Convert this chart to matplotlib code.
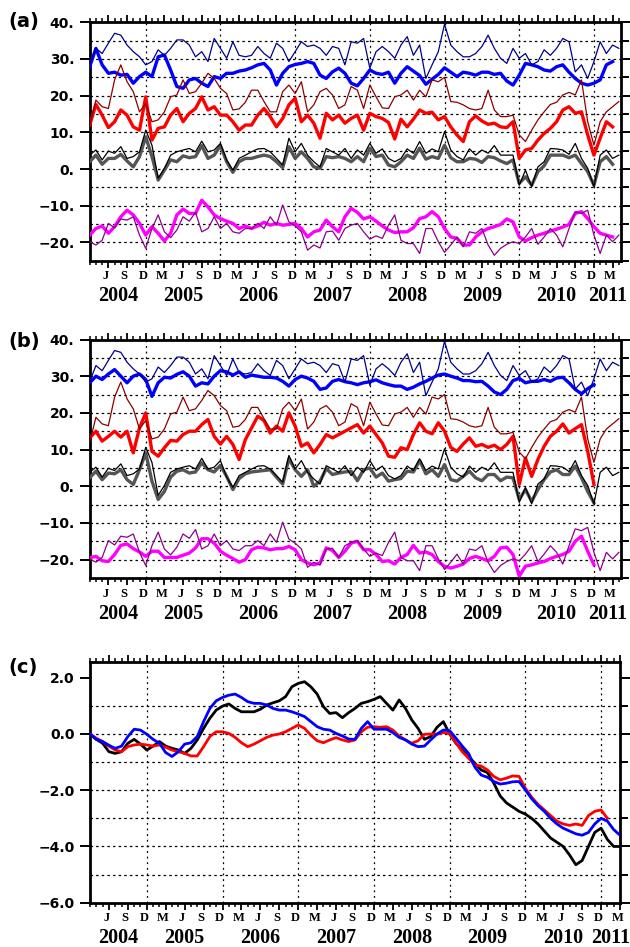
import numpy as np
import matplotlib.pyplot as plt
from matplotlib.transforms import blended_transform_factory

# all series are monthly values, the first one is March 2004
start = 2004 + 2 / 12

# ---- observed (thin) series, same in panels (a) and (b)
obs_blue = [28.5, 32.9, 31.5, 34.3, 37.0, 36.5, 33.8, 32.0, 30.6, 28.4, 29.3, 32.5, 31.0, 32.9, 35.2, 35.2,
            33.8, 30.6, 32.0, 29.3, 35.6, 32.9, 30.2, 34.7, 31.0, 30.6, 31.0, 33.4, 31.5, 30.2, 34.3, 32.9,
            29.3, 32.0, 34.7, 33.4, 33.8, 32.9, 31.0, 33.4, 32.9, 28.4, 34.7,
            34.3, 35.6, 27.5, 32.0, 33.4, 32.0, 30.2, 33.8, 36.1, 31.0, 33.8, 24.7, 28.4, 32.0, 39.5, 33.8,
            32.0, 30.6, 30.6, 31.5, 33.4, 36.5, 32.9, 30.2, 28.8, 32.9, 30.2, 31.5, 28.4, 29.3, 32.5, 31.0,
            32.9, 35.6, 34.7, 26.5, 28.4, 24.7, 29.3, 34.7, 31.5, 33.8, 32.9]
obs_red = [12.0, 18.8, 17.0, 16.5, 24.3, 28.4, 23.8, 21.1, 15.6, 17.9, 12.9, 13.4, 15.6, 19.7, 20.2, 24.3,
           20.6, 21.1, 23.4, 26.1, 24.7, 22.0, 20.6, 16.1, 16.4, 18.2, 21.5, 21.5, 18.4, 15.6, 15.6, 21.1,
           22.9, 20.6, 23.8, 15.6, 17.5, 21.1, 22.0, 20.2, 16.5, 17.5, 22.5,
           21.5, 16.5, 22.9, 19.7, 16.7, 16.5, 19.7, 20.2, 21.5, 18.8, 21.5, 19.7, 24.3, 23.8, 25.0, 18.4,
           18.2, 17.5, 16.5, 16.1, 16.5, 21.5, 16.1, 14.3, 14.3, 14.7, 9.3, 7.5, 10.6, 13.4, 15.6, 17.6,
           18.2, 20.2, 20.9, 20.2, 24.3, 12.9, 6.5, 12.9, 15.6, 17.0, 18.4]
obs_black = [3.8, 5.2, 2.5, 4.9, 4.3, 6.1, 2.9, 3.4, 4.7, 10.6, 6.5, -2.5, 0.2, 3.8, 4.7, 5.2,
             5.6, 4.7, 7.6, 4.7, 5.2, 7.0, 2.5, -0.3, 2.9, 3.8, 4.7, 5.5, 5.6, 4.7, 2.9, 1.1,
             8.4, 4.7, 7.0, 3.8, 2.0, 0.6, 5.6, 4.7, 3.8, 5.6, 2.9,
             5.2, 3.8, 7.0, 4.3, 5.5, 2.9, 2.0, 2.9, 5.5, 4.3, 7.5, 4.3, 5.5, 4.7, 10.2, 5.2,
             3.4, 2.5, 5.5, 3.8, 5.2, 4.3, 6.4, 3.8, 3.8, 3.8, -4.4, -0.3, -4.8, 0.6, 2.0, 5.6,
             5.5, 5.2, 4.0, 7.0, 2.9, 0.2, -4.8, 3.8, 5.2, 2.9, 3.8]
obs_purple = [-19.8, -20.7, -19.4, -14.8, -16.0, -13.6, -13.9, -13.0, -18.0, -21.6, -16.2, -12.5, -17.1, -18.7,
              -16.6, -13.0, -14.2, -11.8, -17.1, -16.2, -13.0, -16.2, -14.8, -17.1, -17.5, -16.2, -16.2, -14.8,
              -16.2, -13.0, -15.3, -9.8, -14.4, -15.5, -17.1, -22.1, -20.7, -21.5, -17.1, -16.9, -19.4, -16.2, -15.3,
              -14.8, -17.1, -19.1, -18.2, -18.9, -15.3, -12.5, -19.4, -20.3, -20.3, -23.0, -16.2, -16.2, -19.8,
              -22.7, -20.7, -18.5, -21.2, -17.1, -17.5, -16.2, -20.7, -23.5, -21.6, -20.5, -19.8, -20.3, -18.5,
              -16.2, -20.5, -18.5, -16.2, -18.0, -21.2, -16.2, -11.6, -12.1, -11.2, -18.0, -23.0, -18.0, -19.8, -18.0]

# ---- model (thick) series, panel (a)
a_blue = [27.9, 32.9, 28.4, 26.1, 26.4, 25.6, 25.8, 23.4, 25.2, 26.4, 25.2, 30.6, 31.1, 27.0, 22.5, 22.0,
          24.3, 24.7, 23.4, 22.5, 25.2, 24.7, 26.1, 26.1, 26.7, 27.0, 27.6, 28.4, 28.8, 27.0, 22.9, 26.1,
          27.9, 28.5, 28.8, 29.3, 28.8, 25.6, 24.7, 26.5, 27.5, 26.1, 23.4,
          22.7, 24.7, 27.0, 26.1, 25.8, 26.4, 23.4, 26.1, 27.9, 26.7, 25.5, 23.1, 24.5, 25.8, 27.6, 26.4,
          25.2, 26.4, 26.1, 25.6, 26.4, 26.4, 25.8, 26.1, 24.0, 22.9, 25.6, 28.8, 28.4, 27.9, 27.0, 26.7,
          27.9, 28.4, 26.4, 24.7, 23.4, 22.9, 23.4, 24.3, 28.4, 29.3]
a_red = [12.0, 17.6, 14.7, 11.3, 12.9, 16.1, 14.7, 11.5, 10.6, 19.7, 7.9, 11.1, 11.5, 14.7, 16.5, 12.9,
         15.2, 16.5, 19.7, 16.1, 17.0, 14.7, 14.7, 12.9, 10.6, 12.0, 12.0, 14.7, 16.5, 14.3, 11.5, 13.8,
         17.5, 19.3, 12.9, 14.7, 12.5, 8.4, 15.2, 13.4, 14.7, 12.5, 13.8,
         14.7, 10.6, 15.2, 14.3, 13.8, 12.7, 8.2, 13.6, 11.5, 13.6, 16.1, 15.2, 15.5, 13.4, 14.3, 11.5,
         9.3, 7.5, 12.9, 14.5, 13.1, 12.2, 12.5, 11.5, 11.3, 12.9, 2.9, 5.2, 5.6, 7.9, 9.7, 11.1,
         12.9, 16.1, 17.0, 15.2, 15.6, 9.3, 3.8, 8.4, 12.9, 11.5]
a_gray = [2.0, 3.8, 1.3, 2.9, 2.9, 4.0, 2.2, 0.6, 3.4, 8.8, 3.4, -3.0, -0.3, 2.5, 2.0, 3.6,
          3.1, 3.4, 6.4, 2.9, 3.8, 6.4, 2.0, -0.9, 2.0, 2.9, 2.9, 3.4, 3.8, 3.4, 2.0, 0.4,
          6.1, 2.9, 4.7, 2.9, 0.6, 0.2, 3.4, 3.1, 3.4, 2.9, 2.0,
          3.4, 2.0, 5.7, 3.4, 3.8, 1.1, 0.6, 2.0, 3.8, 2.9, 5.7, 2.7, 3.4, 2.9, 6.5, 3.1,
          2.0, 2.0, 2.9, 2.7, 1.8, 3.4, 3.1, 2.2, 1.5, 2.5, -3.9, -2.1, -4.4, -0.7, 0.9, 3.8,
          3.8, 3.8, 3.1, 3.8, 1.5, -0.7, -4.4, 2.0, 3.4, 1.3]
a_magenta = [-18.0, -16.2, -15.5, -17.5, -15.7, -13.0, -11.2, -12.5, -14.8, -18.0, -15.7, -17.5, -19.6, -17.5,
             -12.5, -10.9, -12.1, -12.1, -8.5, -10.3, -12.5, -13.5, -14.2, -14.8, -16.2, -15.5, -16.2, -15.5,
             -14.5, -15.3, -14.8, -15.3, -15.1, -14.8, -16.2, -18.5, -17.1, -16.6, -13.9, -15.7, -17.1, -13.0, -10.7,
             -11.8, -13.6, -13.0, -14.2, -15.5, -16.6, -17.3, -17.1, -17.1, -16.0, -13.5, -13.0, -11.6, -13.0,
             -16.2, -18.5, -18.9, -20.7, -20.7, -18.5, -17.1, -16.2, -15.7, -15.1, -13.6, -14.4, -18.5, -19.6,
             -18.7, -18.0, -17.5, -16.9, -16.4, -15.8, -15.1, -12.1, -11.6, -13.5, -15.7, -17.5, -18.0, -18.5]

# ---- model (thick) series, panel (b)
b_blue = [28.2, 30.0, 29.1, 30.6, 31.8, 30.0, 28.2, 30.0, 30.6, 29.1, 24.5, 28.2, 29.7, 29.5, 30.5, 31.2,
          30.0, 27.3, 28.2, 27.9, 30.0, 31.5, 31.2, 30.3, 31.2, 29.7, 30.3, 30.0, 29.7, 29.7, 29.5, 28.6,
          27.3, 29.1, 30.0, 29.5, 28.6, 26.4, 26.8, 28.6, 29.1, 28.5, 28.2,
          27.7, 28.2, 28.5, 29.0, 28.2, 27.7, 27.3, 27.3, 26.4, 27.0, 27.9, 28.6, 29.5, 30.3, 30.6, 30.0,
          29.5, 28.8, 28.8, 28.5, 28.6, 27.3, 25.7, 25.0, 26.4, 28.8, 29.4, 28.2, 28.6, 28.6, 29.1, 28.6,
          29.5, 29.7, 28.2, 26.4, 25.2, 26.6, 27.7]
b_red = [13.2, 15.0, 12.3, 13.6, 15.0, 13.4, 15.0, 9.1, 15.9, 20.0, 9.5, 8.2, 10.5, 12.5, 12.3, 14.1,
         15.0, 15.0, 16.8, 18.2, 13.6, 11.5, 13.6, 11.4, 7.3, 12.7, 15.9, 19.1, 17.9, 14.5, 16.4, 15.0,
         20.0, 16.4, 10.9, 11.8, 9.1, 11.4, 14.1, 13.2, 14.1, 15.0, 15.9,
         16.8, 14.5, 16.4, 14.1, 11.8, 8.2, 7.9, 10.5, 10.0, 14.1, 17.3, 15.0, 14.3, 17.3, 15.0, 10.6,
         9.5, 11.5, 13.2, 10.9, 11.4, 10.6, 11.2, 10.0, 11.4, 13.6, 0.5, 7.7, 2.7, 7.3, 10.9, 13.6,
         15.0, 17.0, 14.5, 15.7, 16.8, 9.5, 0.5]
b_gray = [2.3, 4.1, 1.8, 3.6, 3.4, 4.5, 1.8, 0.5, 4.5, 9.1, 1.4, -3.6, -1.4, 2.5, 4.1, 4.5,
          3.6, 3.9, 6.4, 4.5, 3.9, 5.7, 2.7, -0.9, 2.1, 3.4, 3.9, 4.1, 4.3, 4.5, 2.5, 0.6,
          7.5, 4.5, 2.7, 4.5, 0.0, 1.4, 4.8, 3.2, 3.6, 3.9, 4.1,
          1.5, 4.5, 5.0, 2.5, 3.6, 1.4, 1.8, 2.1, 4.1, 3.9, 7.0, 3.4, 4.5, 2.7, 5.9, 1.8,
          1.4, 2.7, 4.1, 2.3, 1.5, 3.2, 3.2, 1.5, 2.5, 2.3, -3.6, -0.9, -4.1, -0.9, 1.8, 3.9,
          4.5, 3.2, 3.2, 5.5, 2.3, -1.4, -4.5]
b_magenta = [-19.5, -19.1, -20.3, -20.5, -18.6, -16.1, -15.7, -17.0, -17.9, -19.1, -17.7, -17.7, -19.4, -19.4,
             -19.4, -18.8, -18.2, -16.8, -14.3, -14.3, -15.5, -17.7, -18.8, -19.7, -20.7, -20.0, -17.3, -16.6,
             -16.8, -17.3, -17.0, -17.0, -16.4, -17.3, -20.0, -20.9, -21.4, -20.9, -16.8, -17.5, -19.4, -17.7, -15.5,
             -15.0, -17.3, -17.3, -18.6, -20.5, -20.3, -21.2, -19.4, -18.6, -16.1, -18.2, -17.9, -18.6, -20.5,
             -21.8, -22.3, -21.8, -21.2, -19.7, -19.1, -19.7, -20.3, -19.1, -16.8, -16.6, -18.6, -24.5, -21.8,
             -21.4, -20.9, -20.5, -19.7, -19.1, -18.6, -17.7, -15.0, -13.6, -17.7, -21.4]

# ---- panel (c)
c_black = [0.0, -0.19, -0.33, -0.63, -0.69, -0.63, -0.33, -0.19, -0.36, -0.57, -0.43, -0.27, -0.43, -0.51,
           -0.57, -0.69, -0.51, -0.21, 0.20, 0.56, 0.85, 0.99, 1.07, 0.91, 0.79, 0.79, 0.79, 0.88, 1.03,
           1.11, 1.18, 1.33, 1.68, 1.80, 1.86, 1.68, 1.42,
           0.97, 0.73, 0.76, 0.58, 0.76, 0.91, 1.09, 1.15, 1.23, 1.33, 1.09, 0.85, 1.21, 0.91, 0.50, 0.20,
           -0.19, -0.09, 0.24, 0.44, 0.00, -0.33, -0.57, -0.80, -1.04, -1.28, -1.37, -1.75,
           -2.2, -2.45, -2.6, -2.75, -2.85, -3.0, -3.2, -3.45, -3.7, -3.85, -4.0, -4.3, -4.65, -4.5, -4.0,
           -3.5, -3.35, -3.75, -4.0, -4.0]
c_blue = [0.0, -0.19, -0.27, -0.40, -0.51, -0.43, -0.09, 0.17, 0.14, -0.01, -0.19, -0.33, -0.66, -0.80,
          -0.63, -0.36, -0.31, -0.09, 0.44, 0.91, 1.18, 1.30, 1.38, 1.42, 1.30, 1.15, 1.09, 1.09, 1.03,
          0.91, 0.85, 0.85, 0.79, 0.71, 0.62, 0.44, 0.26,
          0.17, 0.14, 0.02, -0.07, -0.18, -0.19, 0.20, 0.44, 0.17, 0.17, 0.17, 0.05, -0.12, -0.21, -0.36,
          -0.45, -0.43, -0.21, 0.00, 0.14, 0.12, -0.15, -0.43, -0.69, -1.18, -1.46, -1.54, -1.69, -1.78,
          -1.75, -1.70, -1.69, -1.99,
          -2.3, -2.55, -2.75, -3.0, -3.2, -3.35, -3.45, -3.55, -3.6, -3.5, -3.2, -3.0, -3.1, -3.4, -3.6]
c_red = [0.0, -0.15, -0.27, -0.43, -0.57, -0.63, -0.45, -0.39, -0.36, -0.39, -0.43, -0.39, -0.47, -0.57,
         -0.63, -0.69, -0.78, -0.78, -0.45, -0.09, 0.08, 0.08, 0.02, -0.12, -0.31, -0.45, -0.36, -0.24,
         -0.12, -0.04, 0.00, 0.08, 0.20, 0.32, 0.20, -0.04, -0.24,
         -0.31, -0.21, -0.13, -0.21, -0.27, -0.21, 0.08, 0.24, 0.26, 0.24, 0.26, 0.14, -0.07, -0.21, -0.33,
         -0.24, -0.01, 0.00, -0.01, 0.05, 0.02, -0.31, -0.63, -0.86, -1.10, -1.14, -1.28, -1.51, -1.63,
         -1.57, -1.49, -1.51, -1.93,
         -2.25, -2.5, -2.7, -2.9, -3.1, -3.2, -3.25, -3.2, -3.25, -2.9, -2.75, -2.7, -3.0]

years = [2004, 2005, 2006, 2007, 2008, 2009, 2010, 2011]
quarter_letters = {3: 'M', 6: 'J', 9: 'S', 12: 'D'}

SERIF = 'Liberation Serif'


def tt(values):
    return start + np.arange(len(values)) / 12


def minus(s):
    return s.replace('-', '\u2212')


def style(ax, xend, ylim, ystep, ylab_step, fmt):
    ax.set_xlim(start, xend)
    ax.set_ylim(*ylim)
    for s in ax.spines.values():
        s.set_linewidth(2.0)

    # x ticks: quarterly major, monthly minor
    months = np.arange(start, xend + 1e-6, 1 / 12)
    quarters = [start + k / 12 for k in range(3, 86, 3) if start + k / 12 <= xend + 1e-6]
    ax.set_xticks(quarters)
    ax.set_xticks(months, minor=True)
    ax.tick_params(axis='x', which='major', direction='out', length=5, width=1.3,
                   top=True, bottom=True, labelbottom=False)
    ax.tick_params(axis='x', which='minor', direction='out', length=3.2, width=1.1,
                   top=True, bottom=True)

    # y ticks: labelled ones on the left, every grid level on the right
    levels = np.arange(ylim[0], ylim[1] + 1e-6, ystep)
    major = [v for v in levels if abs(v / ylab_step - round(v / ylab_step)) < 1e-6]
    minor = [v for v in levels if v not in major]
    ax.set_yticks(major)
    ax.set_yticks(minor, minor=True)
    ax.set_yticklabels([minus(fmt(v)) for v in major])
    ax.tick_params(axis='y', which='major', direction='out', length=7, width=1.4,
                   left=True, right=True, pad=4)
    ax.tick_params(axis='y', which='minor', direction='out', length=6, width=1.4,
                   left=False, right=True)
    for lab in ax.get_yticklabels():
        lab.set_fontweight('bold')
        lab.set_fontsize(10)

    # grid
    for v in levels[1:-1]:
        if v < ylim[1] - 1e-6:
            ax.axhline(v, color='black', lw=0.9, ls=(0, (2, 2.5)), zorder=1)
    for y in years[:-1]:
        ax.axvline(y + 11 / 12, color='black', lw=0.9, ls=(0, (1.5, 3)), zorder=1)

    # month letters and years under the axis
    trans = blended_transform_factory(ax.transData, ax.transAxes)
    for q in quarters:
        m = int(round((q - int(q + 1e-6)) * 12)) + 1
        ax.annotate(quarter_letters[m], xy=(q, 0), xycoords=trans, xytext=(-2, -11.3),
                    textcoords='offset points', ha='center', va='center',
                    family=SERIF, fontweight='bold', fontsize=9)
    edges = [start] + [y + 11 / 12 for y in years[:-1]] + [xend]
    for y, x0, x1 in zip(years, edges[:-1], edges[1:]):
        ax.annotate(str(y), xy=((x0 + x1) / 2, 0), xycoords=trans, xytext=(0, -25.6),
                    textcoords='offset points', ha='center', va='center',
                    family=SERIF, fontweight='bold', fontsize=14.5)


fig = plt.figure(figsize=(6.3, 9.47), dpi=100)
W, H = 630, 947


def add_axes(x0, y0, x1, y1):
    return fig.add_axes([x0 / W, 1 - y1 / H, (x1 - x0) / W, (y1 - y0) / H])


end_ab = 2011.275
end_c = start + 7

thin_lw, thick_lw = 0.9, 2.4
panels = [
    ('(a)', 22.3, 260.8, 22, [a_blue, a_red, a_gray, a_magenta]),
    ('(b)', 339.5, 578, 341, [b_blue, b_red, b_gray, b_magenta]),
]
thin_series = [(obs_blue, '#00008b'), (obs_red, '#8b0000'), (obs_black, 'black'), (obs_purple, '#8b008b')]
thick_colors = ['#0000ff', '#ff0000', '#555555', '#ff00ff']

for label, top, bottom, ly, thick in panels:
    ax = add_axes(89.7, top, 620.7, bottom)
    for vals, col in zip(thick, thick_colors):
        ax.plot(tt(vals), vals, color=col, lw=thick_lw, zorder=3)
    for vals, col in thin_series:
        ax.plot(tt(vals), vals, color=col, lw=thin_lw, zorder=4)
    style(ax, end_ab, (-25, 40), 5, 10, lambda v: f'{v:.0f}.')
    fig.text(8 / W, 1 - ly / H, label, fontsize=14, fontweight='bold', va='center', ha='left')

axc = add_axes(90, 662.3, 620, 902.7)
axc.plot(tt(c_black), c_black, color='black', lw=2.0, zorder=3)
axc.plot(tt(c_red), c_red, color='#ff0000', lw=2.0, zorder=3)
axc.plot(tt(c_blue), c_blue, color='#0000ff', lw=2.0, zorder=3)
style(axc, end_c, (-6, 2.55), 1, 2, lambda v: f'{v:.1f}')
fig.text(8 / W, 1 - 668 / H, '(c)', fontsize=14, fontweight='bold', va='center', ha='left')

fig.savefig('out.png', dpi=100)
